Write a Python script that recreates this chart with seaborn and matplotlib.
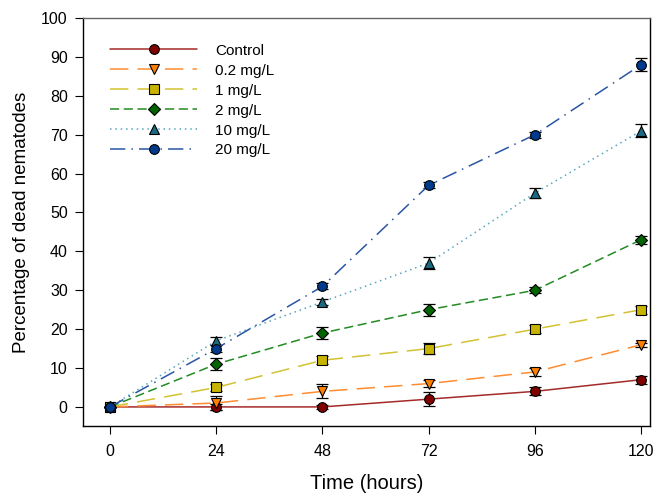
import numpy as np
import pandas as pd
import matplotlib
matplotlib.use('Agg')
import matplotlib.pyplot as plt
import seaborn as sns

# data
hours = [0, 24, 48, 72, 96, 120]
groups = ['Control', '0.2 mg/L', '1 mg/L', '2 mg/L', '10 mg/L', '20 mg/L']
control = [0, 0, 0, 2, 4, 7]
c02 = [0, 1, 4, 6, 9, 16]
c1 = [0, 5, 12, 15, 20, 25]
c2 = [0, 11, 19, 25, 30, 43]
c10 = [0, 17, 27, 37, 55, 71]
c20 = [0, 15, 31, 57, 70, 88]
err_control = [0, 0.7, 0.5, 1.8, 1.0, 1.0]
err_c02 = [0, 1.8, 1.8, 1.0, 1.0, 0.5]
err_c1 = [0, 0.8, 1.0, 1.5, 1.0, 1.0]
err_c2 = [0, 1.5, 1.5, 1.5, 0.8, 1.0]
err_c10 = [0, 1.0, 0.8, 1.6, 1.2, 1.7]
err_c20 = [0, 0.8, 0.8, 0.8, 0.8, 1.7]

vals = [control, c02, c1, c2, c10, c20]
errs = [err_control, err_c02, err_c1, err_c2, err_c10, err_c20]

rows = []
for g, v, e in zip(groups, vals, errs):
    for h, y, s in zip(hours, v, e):
        rows.append({'hours': h, 'dead': y, 'sd': s, 'group': g})
df = pd.DataFrame(rows)

sns.set_style('ticks')
plt.rcParams['font.family'] = ['Liberation Sans', 'DejaVu Sans']
plt.rcParams['text.color'] = 'black'
plt.rcParams['axes.labelcolor'] = 'black'
plt.rcParams['xtick.color'] = 'black'
plt.rcParams['ytick.color'] = 'black'

# line colour, marker fill, marker, dash pattern
styles = {
    'Control': ('#a52a2a', '#800000', 'o', (None, None)),
    '0.2 mg/L': ('#ff8c30', '#ff8000', 'v', (12, 6)),
    '1 mg/L': ('#d2c232', '#c8b400', 's', (12, 6)),
    '2 mg/L': ('#228b22', '#006400', 'D', (6, 3)),
    '10 mg/L': ('#5aa6bc', '#1b6a82', '^', (1, 2.5)),
    '20 mg/L': ('#2a55a5', '#003a8c', 'o', (10, 4, 1, 4)),
}

fig = plt.figure(figsize=(6.56, 4.94), dpi=100)
ax = fig.add_axes([0.1265, 0.1377, 0.8645, 0.8259])

for g in groups:
    d = df[df['group'] == g]
    lc, mc, mk, dash = styles[g]
    ax.errorbar(d['hours'], d['dead'], yerr=d['sd'], fmt='none',
                ecolor='black', elinewidth=0.9, capsize=4, capthick=0.9, zorder=2)
    sns.lineplot(data=d, x='hours', y='dead', ax=ax, color=lc, label=g,
                 linewidth=1.1, marker=mk, markersize=7 if mk != 'D' else 6.2,
                 markerfacecolor=mc, markeredgecolor='black',
                 markeredgewidth=0.8, zorder=3)
    line = ax.get_lines()[-1]
    if dash[0] is None:
        line.set_linestyle('-')
    else:
        line.set_dashes(dash)

ax.set_xlim(-6.1, 122)
ax.set_ylim(-4.9, 100)
ax.set_xticks(hours)
ax.set_yticks(range(0, 101, 10))
ax.tick_params(direction='out', length=6, width=0.8, labelsize=11.5, pad=5)
ax.tick_params(axis='x', pad=7)
ax.set_xlabel('Time (hours)', fontsize=14.5, labelpad=11)
ax.set_ylabel('Percentage of dead nematodes', fontsize=13.5, labelpad=8)
for s in ['left', 'right', 'bottom']:
    ax.spines[s].set_color('black')
ax.spines['top'].set_color('#666666')
for s in ax.spines.values():
    s.set_linewidth(1.0)

leg = ax.legend(loc='upper left', bbox_to_anchor=(0.037, 0.952), frameon=False,
                fontsize=11, handlelength=5.7, handletextpad=1.2,
                labelspacing=0.39, borderaxespad=0)

fig.savefig('out.png', dpi=100)
